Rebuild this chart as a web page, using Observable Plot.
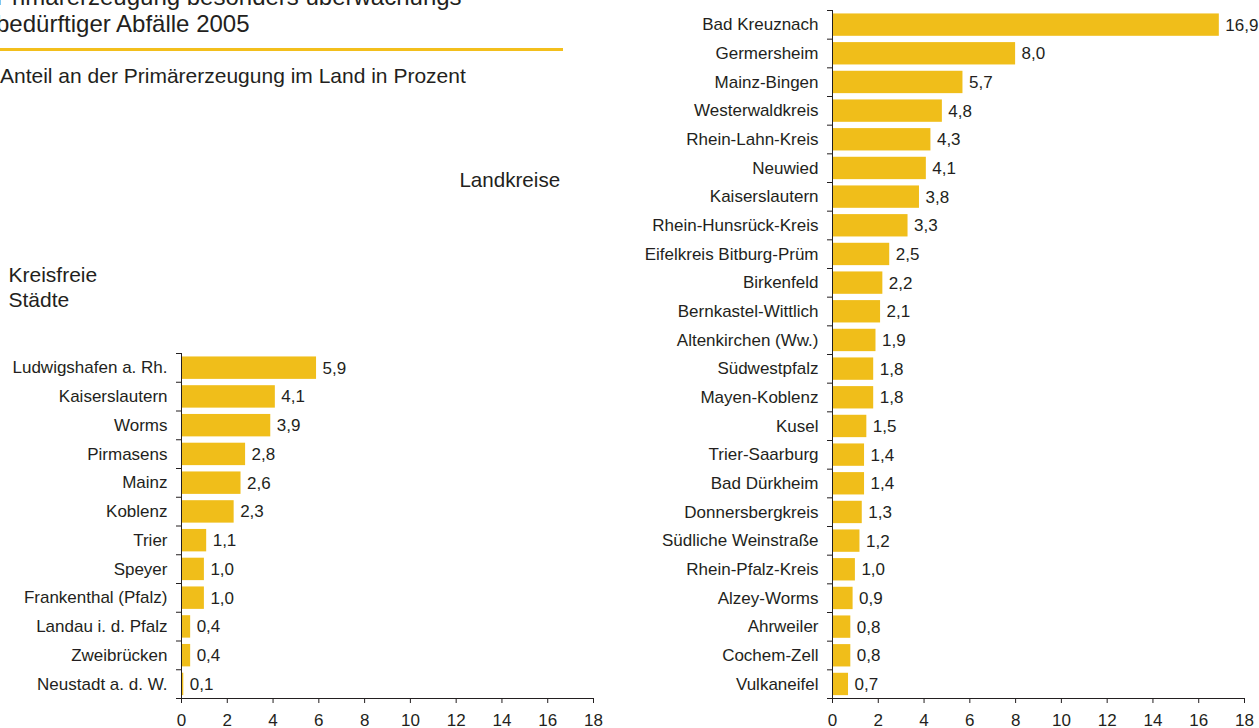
<!DOCTYPE html>
<html>
<head>
<meta charset="utf-8">
<script src="https://cdn.jsdelivr.net/npm/d3@7"></script>
<script src="https://cdn.jsdelivr.net/npm/@observablehq/plot@0.6"></script>
<style>
  html, body { margin: 0; padding: 0; background: #fff; }
  body { width: 1259px; height: 728px; position: relative; overflow: hidden;
         font-family: "Liberation Sans", Arial, Helvetica, sans-serif; color: #231f20; }
  .t { position: absolute; white-space: nowrap; line-height: 1; }
  #left, #right { position: absolute; }
  #left { left: 0; top: 330px; }
  #right { left: 620px; top: 0; }
  svg { overflow: visible; }
</style>
</head>
<body>
<div class="t" id="title" style="left:-4px; top:-16.8px; font-size:24px; line-height:27px;">Primärerzeugung besonders überwachungs-<br>bedürftiger Abfälle 2005</div>
<div style="position:absolute; left:0; top:48px; width:563px; height:2.5px; background:#F3BF1C;"></div>
<div class="t" id="subtitle" style="left:0; top:65px; font-size:21px;">Anteil an der Primärerzeugung im Land in Prozent</div>
<div class="t" style="left:459.4px; top:169.9px; font-size:20.6px;">Landkreise</div>
<div class="t" style="left:8.5px; top:261.9px; font-size:21px; line-height:25px;">Kreisfreie<br>Städte</div>
<div id="left"></div>
<div id="right"></div>
<script>
// Kreisfreie Städte
const staedte = ["Ludwigshafen a. Rh.", "Kaiserslautern", "Worms", "Pirmasens", "Mainz", "Koblenz",
  "Trier", "Speyer", "Frankenthal (Pfalz)", "Landau i. d. Pfalz", "Zweibrücken", "Neustadt a. d. W."];
const staedteWerte = [5.9, 4.1, 3.9, 2.8, 2.6, 2.3, 1.1, 1.0, 1.0, 0.4, 0.4, 0.1];

// Landkreise
const kreise = ["Bad Kreuznach", "Germersheim", "Mainz-Bingen", "Westerwaldkreis", "Rhein-Lahn-Kreis",
  "Neuwied", "Kaiserslautern", "Rhein-Hunsrück-Kreis", "Eifelkreis Bitburg-Prüm", "Birkenfeld",
  "Bernkastel-Wittlich", "Altenkirchen (Ww.)", "Südwestpfalz", "Mayen-Koblenz", "Kusel",
  "Trier-Saarburg", "Bad Dürkheim", "Donnersbergkreis", "Südliche Weinstraße", "Rhein-Pfalz-Kreis",
  "Alzey-Worms", "Ahrweiler", "Cochem-Zell", "Vulkaneifel"];
const kreiseWerte = [16.9, 8.0, 5.7, 4.8, 4.3, 4.1, 3.8, 3.3, 2.5, 2.2, 2.1, 1.9, 1.8, 1.8, 1.5,
  1.4, 1.4, 1.3, 1.2, 1.0, 0.9, 0.8, 0.8, 0.7];

// x-axis ticks
const xTicks = [0, 2, 4, 6, 8, 10, 12, 14, 16, 18];

const barColor = "#F0BE1A";
const ink = "#231f20";
const fmt = v => d3.format(".1f")(v).replace(".", ",");
const fontFamily = '"Liberation Sans", Arial, Helvetica, sans-serif';

function panel(names, values, opts) {
  const n = names.length;
  const data = names.map((name, i) => ({name, value: values[i], i}));
  return Plot.plot({
    width: opts.width,
    height: opts.height,
    marginLeft: opts.marginLeft,
    marginRight: opts.marginRight,
    marginTop: opts.marginTop,
    marginBottom: opts.marginBottom,
    style: {fontFamily, fontSize: "17px", color: ink, background: "transparent", overflow: "visible"},
    x: {domain: [0, 18]},
    y: {domain: [0, n], reverse: true},
    marks: [
      Plot.rectX(data, {x1: 0, x2: "value", y1: d => d.i + 0.12, y2: d => d.i + 0.9, fill: barColor}),
      Plot.text(data, {x: "value", y: d => d.i + 0.51, text: d => fmt(d.value), textAnchor: "start",
        dx: 6, fontSize: 17, fill: ink}),
      Plot.axisY({ticks: d3.range(0, n + 1), tickFormat: () => "", tickSize: 5, stroke: ink, label: null}),
      Plot.axisY({ticks: d3.range(0, n).map(i => i + 0.5), tickFormat: v => names[Math.floor(v)],
        tickSize: 0, tickPadding: 14, fontSize: 17, fill: ink, label: null}),
      Plot.axisX({ticks: xTicks, tickFormat: d => String(d), tickSize: 5, tickPadding: 10.5,
        fontSize: 17, stroke: ink, fill: ink, label: null}),
      Plot.ruleX([0], {stroke: ink}),
      Plot.ruleY([n], {stroke: ink})
    ]
  });
}

document.getElementById("left").append(panel(staedte, staedteWerte, {
  width: 620, height: 399, marginLeft: 181, marginRight: 27, marginTop: 23, marginBottom: 31
}));
document.getElementById("right").append(panel(kreise, kreiseWerte, {
  width: 639, height: 728, marginLeft: 212, marginRight: 15, marginTop: 10, marginBottom: 30
}));
</script>
</body>
</html>
